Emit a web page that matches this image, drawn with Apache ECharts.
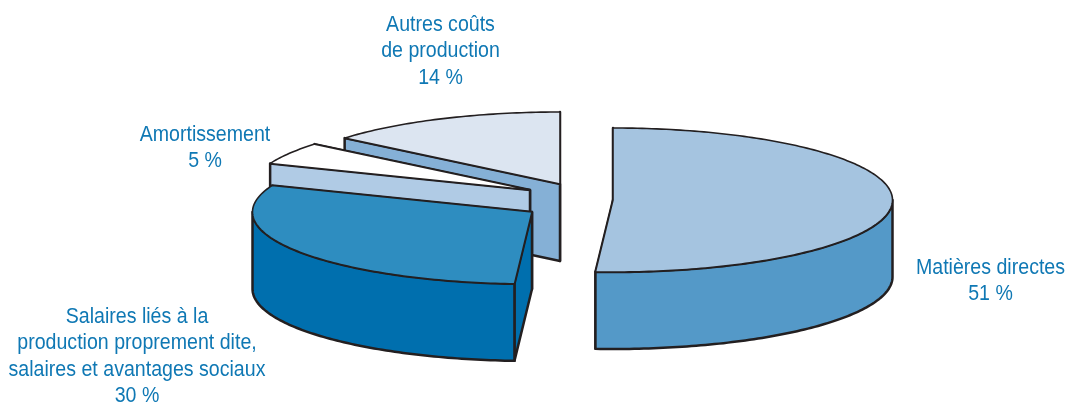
<!DOCTYPE html>
<html lang="fr">
<head>
<meta charset="utf-8">
<title>Coûts de production</title>
<style>html,body{margin:0;padding:0;background:#fff}#chart{width:1067px;height:404px}</style>
<script src="https://cdn.jsdelivr.net/npm/echarts@6/dist/echarts.min.js"></script>
</head>
<body>
<div id="chart"></div>
<script>
// Cost shares, in percent, clockwise from twelve o'clock.
const categories = ['Matières directes', 'Salaires', 'Amortissement', 'Autres coûts'];
const shares = [51, 30, 5, 14];
const labelLines = [
  ['Matières directes'],
  ['Salaires liés à la', 'production proprement dite,', 'salaires et avantages sociaux'],
  ['Amortissement'],
  ['Autres coûts', 'de production']
];

// Disc geometry of the tilted pie.
const CENTER = [600, 200];
const RX = 279.5, RY = 72, DEPTH = 77;
const EXPLODE = [[13, 0], [-68, 12], [-70, -10], [-40, -16]];

// Face colours per slice, and where each caption sits.
const TOP_COLORS = ['#a5c4e0', '#2e8dc0', '#ffffff', '#dce5f1'];
const WALL_COLORS = ['#5499c8', '#006fae', '#b0cbe5', '#85b0d6'];
const LABEL_POS = [[990.5, 268], [137, 317], [205, 134.5], [440.5, 25]];
const LINE_HEIGHT = 26.4;
const CONDENSE = 0.89;
const INK = '#231f20';
const TEXT_COLOR = '#0f78b4';

const total = shares.reduce((a, b) => a + b, 0);
const starts = shares.map((_, i) => shares.slice(0, i).reduce((a, b) => a + b, 0) / total * 360);

// Projects an angle (degrees clockwise from the top) on a slice's rim.
function rim(apex, deg, drop) {
  const t = deg * Math.PI / 180;
  return [apex[0] + RX * Math.sin(t), apex[1] - RY * Math.cos(t) + drop];
}
function arc(apex, from, to, drop) {
  const pts = [];
  const steps = Math.max(2, Math.ceil(Math.abs(to - from)));
  for (let k = 0; k <= steps; k++) pts.push(rim(apex, from + (to - from) * k / steps, drop));
  return pts;
}
function face(points, fill, width) {
  return {
    type: 'polygon',
    shape: { points: points },
    style: { fill: fill, stroke: INK, lineWidth: width, lineJoin: 'round' }
  };
}
function radialFace(apex, deg, fill) {
  const p = rim(apex, deg, 0), q = rim(apex, deg, DEPTH);
  return face([apex, p, q, [apex[0], apex[1] + DEPTH]], fill, 2.5);
}

function renderSlice(params, api) {
  const i = api.value(0);
  const from = api.value(1);
  const to = from + api.value(2) / total * 360;
  const apex = [CENTER[0] + EXPLODE[i][0], CENTER[1] + EXPLODE[i][1]];
  const children = [radialFace(apex, to, WALL_COLORS[i]), radialFace(apex, from, WALL_COLORS[i])];

  // The outer wall only shows on the near half of the rim.
  const a = Math.max(from, 90), b = Math.min(to, 270);
  if (b > a) {
    children.push(face(arc(apex, a, b, 0).concat(arc(apex, b, a, DEPTH)), WALL_COLORS[i], 2.5));
  }
  children.push(face([apex].concat(arc(apex, from, to, 0)), TOP_COLORS[i], 1.6));

  const lines = labelLines[i].concat(api.value(2) + ' %');
  lines.forEach(function (line, n) {
    children.push({
      type: 'text',
      x: LABEL_POS[i][0],
      y: LABEL_POS[i][1] + n * LINE_HEIGHT,
      scaleX: CONDENSE,
      style: {
        text: line,
        x: 0,
        y: 0,
        align: 'center',
        verticalAlign: 'middle',
        fill: TEXT_COLOR,
        font: '22px "Liberation Sans", sans-serif'
      }
    });
  });
  return { type: 'group', children: children };
}

// Far slices first so nearer ones cover them.
const drawOrder = [3, 2, 1, 0];
const chart = echarts.init(document.getElementById('chart'), null, { renderer: 'canvas' });
chart.setOption({
  animation: false,
  backgroundColor: '#ffffff',
  series: [{
    type: 'custom',
    coordinateSystem: 'none',
    renderItem: renderSlice,
    silent: true,
    encode: { itemName: 3 },
    data: drawOrder.map(i => [i, starts[i], shares[i], categories[i]])
  }]
});
</script>
</body>
</html>
